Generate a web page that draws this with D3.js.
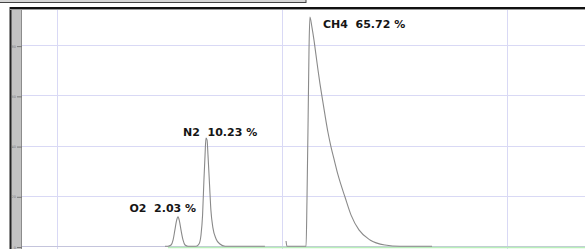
<!DOCTYPE html>
<html>
<head>
<meta charset="utf-8">
<script src="https://cdn.jsdelivr.net/npm/d3@7"></script>
<style>
  body { margin: 0; background: #fff; }
  svg { display: block; }
</style>
</head>
<body>
<svg id="chart"></svg>
<script>
// retention time (min) and detector signal
const trace1Time = [1.480, 1.493, 1.507, 1.516, 1.524, 1.531, 1.538, 1.544, 1.551, 1.560, 1.569, 1.582,
  1.618, 1.631, 1.640, 1.647, 1.653, 1.658, 1.662, 1.667, 1.671, 1.678, 1.684, 1.693, 1.707, 1.724, 1.747, 1.924];
const trace1Signal = [0.3, 0.3, 0.8, 2.8, 6.8, 10.4, 12.0, 10.4, 6.8, 2.8, 0.8, 0.3,
  0.3, 1.2, 4.8, 12.7, 26.7, 36.7, 43.4, 42.6, 36.7, 24.7, 14.7, 7.6, 3.2, 1.2, 0.3, 0.3];

const trace2Time = [2.018, 2.022, 2.107, 2.111, 2.116, 2.120, 2.124, 2.133, 2.142, 2.151, 2.160, 2.169,
  2.178, 2.191, 2.204, 2.218, 2.231, 2.249, 2.280, 2.307, 2.342, 2.391, 2.458, 2.524, 2.667];
const trace2Signal = [2.4, 0.3, 0.3, 18.7, 50.6, 78.5, 91.6, 87.6, 82.5, 76.5, 70.5, 64.9,
  59.8, 52.6, 45.8, 39.8, 35.1, 28.7, 19.9, 12.7, 6.8, 2.8, 0.8, 0.3, 0.3];

const baselineTime = [1.493, 3.35];
const baselineSignal = [-0.2, -0.2];

const peakNames = ["O2", "N2", "CH4"];
const peakPercents = ["2.03 %", "10.23 %", "65.72 %"];
const labelTime = [1.322, 1.560, 2.182];
const labelSignal = [14.1, 44.2, 87.3];

const timeTicks = [1, 2, 3];
const signalTicks = [0, 20, 40, 60, 80];

const W = 585, H = 249;
const svg = d3.select("#chart").attr("width", W).attr("height", H);

const plotLeft = 22, plotTop = 10;

const x = d3.scaleLinear().domain([0.8444, 3.3467]).range([plotLeft, W]);
const y = d3.scaleLinear().domain([0, 94.4]).range([247, plotTop]);

// top toolbar remnant
svg.append("rect")
  .attr("x", -1).attr("y", -3).attr("width", 307).attr("height", 5.5)
  .attr("fill", "#d6d6d6").attr("stroke", "#444").attr("stroke-width", 1);

// grid
const grid = svg.append("g").attr("stroke", "#d9d9f5").attr("stroke-width", 1);
grid.selectAll("line.v")
  .data(timeTicks)
  .enter().append("line")
  .attr("class", "v")
  .attr("x1", d => Math.round(x(d)) + 0.5).attr("x2", d => Math.round(x(d)) + 0.5)
  .attr("y1", plotTop).attr("y2", H);
grid.selectAll("line.h")
  .data(signalTicks)
  .enter().append("line")
  .attr("class", "h")
  .attr("x1", plotLeft).attr("x2", W)
  .attr("y1", d => Math.round(y(d)) - 0.5).attr("y2", d => Math.round(y(d)) - 0.5)
  .attr("stroke", d => d === 0 ? "#c4c4dc" : "#d9d9f5");

// integration baseline
svg.append("path")
  .datum(d3.zip(baselineTime, baselineSignal))
  .attr("fill", "none")
  .attr("stroke", "#b9efb9")
  .attr("stroke-width", 1.5)
  .attr("d", d3.line().x(d => x(d[0])).y(d => y(d[1])));

// chromatogram trace
const line = d3.line()
  .x(d => x(d[0]))
  .y(d => y(d[1]))
  .curve(d3.curveMonotoneX);

[[trace1Time, trace1Signal], [trace2Time, trace2Signal]].forEach(([t, s]) => {
  svg.append("path")
    .datum(d3.zip(t, s))
    .attr("fill", "none")
    .attr("stroke", "#8a8a8a")
    .attr("stroke-width", 1.1)
    .attr("d", line);
});

// peak labels
svg.selectAll("text.peak")
  .data(peakNames)
  .enter().append("text")
  .attr("class", "peak")
  .attr("x", (d, i) => x(labelTime[i]))
  .attr("y", (d, i) => y(labelSignal[i]))
  .attr("font-family", "DejaVu Sans, sans-serif")
  .attr("font-weight", "bold")
  .attr("font-size", "11px")
  .attr("fill", "#151515")
  .attr("xml:space", "preserve")
  .text((d, i) => d + "  " + peakPercents[i]);

// left signal bar
svg.append("rect")
  .attr("x", 11).attr("y", plotTop).attr("width", 11).attr("height", H - plotTop)
  .attr("fill", "#c3c3c3");
svg.append("line")
  .attr("x1", 10.5).attr("x2", 10.5).attr("y1", 7).attr("y2", H)
  .attr("stroke", "#222").attr("stroke-width", 2);
svg.append("line")
  .attr("x1", 21.5).attr("x2", 21.5).attr("y1", plotTop).attr("y2", H)
  .attr("stroke", "#8c8c8c").attr("stroke-width", 1);

const yAxis = svg.append("g")
  .attr("transform", `translate(${plotLeft},0)`)
  .call(d3.axisLeft(y).tickValues(signalTicks).tickSize(5).tickPadding(1).tickFormat(d => d));
yAxis.select(".domain").remove();
yAxis.selectAll("line").attr("stroke", "#777");
yAxis.selectAll("text")
  .attr("font-size", "3.5px")
  .attr("font-family", "DejaVu Sans, sans-serif")
  .attr("fill", "#777");

// top frame line
svg.append("line")
  .attr("x1", 10).attr("x2", W).attr("y1", 8).attr("y2", 8)
  .attr("stroke", "#111").attr("stroke-width", 2);
svg.append("line")
  .attr("x1", 10).attr("x2", W).attr("y1", 9.5).attr("y2", 9.5)
  .attr("stroke", "#9a9a9a").attr("stroke-width", 1);
</script>
</body>
</html>
